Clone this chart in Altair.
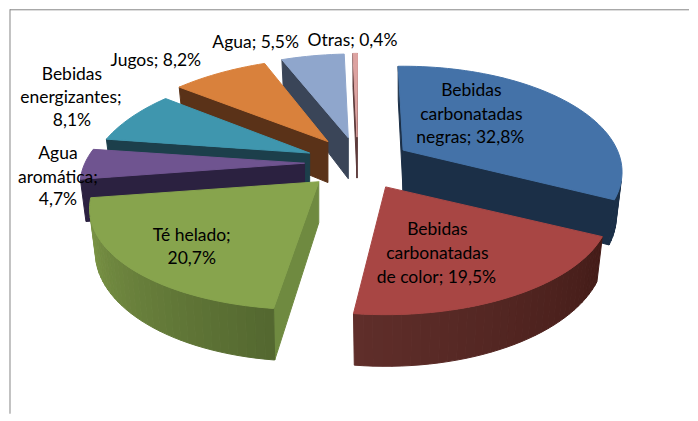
import math
import altair as alt
import pandas as pd

# ---- values
names = ["Bebidas carbonatadas negras", "Bebidas carbonatadas de color", "Té helado",
         "Agua aromática", "Bebidas energizantes", "Jugos", "Agua", "Otras"]
shares = [32.8, 19.5, 20.7, 4.7, 8.1, 8.2, 5.5, 0.4]

# ---- styles
top_colors = ["#4472A8", "#A84644", "#87A44D", "#6F5490", "#3F96AE", "#D9813C", "#8FA6CC", "#DDA3A1"]
wall_start = ["#1B2F47", "#4A1D19", "#6F8A40", "#2B2140", "#1C3F4B", "#5A3218", "#3A4558", "#5C3A3A"]
wall_end = ["#1B2F47", "#4A1D19", "#6F8A40", "#2B2140", "#1C3F4B", "#5A3218", "#3A4558", "#5C3A3A"]
rim_a = ["#1B2F47", "#441C18", "#546830", "#2B2140", "#1C3F4B", "#5A3218", "#3A4558", "#5C3A3A"]
rim_b = ["#1B2F47", "#5F2E2A", "#7F9A48", "#3A2C55", "#1C3F4B", "#5A3218", "#3A4558", "#5C3A3A"]

# ---- pie layout (pixels in page coordinates; page margin is removed below)
PAGE = 8
W, H = 682, 405
CX, CY = 359, 162        # pie centre
EX, EY = 53, 26          # explosion
RX, RY = 220, 101.4      # radii
PERSP = 0.2075           # perspective strength
DEPTH = 41               # pie thickness
SHRINK = 0.975           # bottom-face narrowing
START = -1.6             # first slice angle
STEP = 2.0
skew = [0, 0, 0.10, 0, 0.12, 0.12, 0.08, 0.08]         # lens skew per slice
widen = [0.975, 1, 1.01, 1, 0.97, 1, 1, 1]             # lens width per slice
nudge_x = [0, 2, -3, -1, 0, 2, 2, 1]                   # lens shift per slice
nudge_y = [1, 1, 0, 0, 0, -1, 0, 0]


def hex2rgb(c):
    return [int(c[i:i + 2], 16) for i in (1, 3, 5)]


def mix(a, b, t):
    return "#%02x%02x%02x" % tuple(round(p + (q - p) * t) for p, q in zip(hex2rgb(a), hex2rgb(b)))


def offset(theta, i):
    s, c = math.sin(math.radians(theta)), math.cos(math.radians(theta))
    den = 1 + PERSP * c
    dy = -RY * c / den
    dx = widen[i] * RX * s / den - skew[i] * dy
    return dx, dy, DEPTH / den


def feature(points, fill):
    ring = [[x - PAGE, y - PAGE] for x, y in points]
    ring.append(ring[0])
    return {"type": "Feature", "properties": {"fill": fill},
            "geometry": {"type": "Polygon", "coordinates": [ring]}}


def area(points):
    n = len(points)
    return sum(points[i][0] * points[(i + 1) % n][1] - points[(i + 1) % n][0] * points[i][1] for i in range(n))


sectors = []
angle = START
for i, share in enumerate(shares):
    sweep = share * 3.6
    mid = angle + sweep / 2
    ax = CX + EX * math.sin(math.radians(mid)) + nudge_x[i]
    ay = CY - EY * math.cos(math.radians(mid)) + nudge_y[i]
    n = max(1, int(round(sweep / STEP)))
    thetas = [angle + sweep * j / n for j in range(n + 1)]
    sectors.append((i, ax, ay, thetas))
    angle += sweep

# painter's order: back slices first, the two large front slices last
order = [7, 6, 5, 4, 3, 2, 0, 1]
features = []
for i in order:
    _, ax, ay, thetas = sectors[i]
    top = [(ax, ay, 0, 0, DEPTH)]
    for th in thetas:
        dx, dy, d = offset(th, i)
        top.append((ax + dx, ay + dy, dx, dy, d))
    m = len(top)
    for e in range(m):
        p, q = top[e], top[(e + 1) % m]
        quad = [(p[0], p[1]), (q[0], q[1]),
                (ax + SHRINK * q[2], ay + q[3] + q[4]),
                (ax + SHRINK * p[2], ay + p[3] + p[4])]
        if area(quad) >= 0:
            continue
        if e == 0:
            fill = wall_start[i]
        elif e == m - 1:
            fill = wall_end[i]
        else:
            fill = mix(rim_a[i], rim_b[i], (e - 1) / max(1, m - 3))
        features.append(feature(quad, fill))
    features.append(feature([(t[0], t[1]) for t in top], top_colors[i]))

pie = (
    alt.Chart(alt.Data(values=features))
    .mark_geoshape(strokeWidth=1, strokeJoin="round", opacity=1)
    .encode(
        fill=alt.Fill("properties.fill:N", scale=None, legend=None),
        stroke=alt.Stroke("properties.fill:N", scale=None, legend=None),
    )
    .project(type="identity", scale=1, translate=[0, 0])
)

# ---- data labels, one row per text line
label_text = ["Bebidas", "carbonatadas", "negras; 32,8%",
              "Bebidas", "carbonatadas", "de color; 19,5%",
              "Té helado;", "20,7%",
              "Agua", "aromática;", "4,7%",
              "Bebidas", "energizantes;", "8,1%",
              "Jugos; 8,2%", "Agua; 5,5%", "Otras; 0,4%"]
label_x = [472, 472, 471, 438, 438, 437, 192, 192, 58, 58, 58, 72, 71, 72, 156, 256, 353]
label_y = [90, 114, 137, 229, 253, 277, 235, 258, 153, 177, 199, 74, 97, 120, 60, 42, 40]
labels_df = pd.DataFrame({"t": label_text,
                          "px": [x - PAGE for x in label_x],
                          "py": [y - PAGE for y in label_y]})
labels = (
    alt.Chart(labels_df)
    .mark_text(font="Lato", fontSize=17.5, color="#000000", align="center", baseline="middle")
    .encode(x=alt.X("px:Q", scale=None, axis=None), y=alt.Y("py:Q", scale=None, axis=None), text="t:N")
)

frame_top = alt.Chart(alt.Data(values=[{"a": 1}])).mark_rule(color="#868686", strokeWidth=1).encode(
    x=alt.value(2), x2=alt.value(W), y=alt.value(0.5))
frame_left = alt.Chart(alt.Data(values=[{"a": 1}])).mark_rule(color="#868686", strokeWidth=1).encode(
    x=alt.value(2), y=alt.value(0), y2=alt.value(H))

chart = (
    alt.layer(frame_top, frame_left, pie, labels)
    .properties(width=W, height=H, padding=0, background="#ffffff")
    .configure_view(stroke=None)
)

chart.save("out.html", embed_options={"renderer": "svg", "actions": False})
